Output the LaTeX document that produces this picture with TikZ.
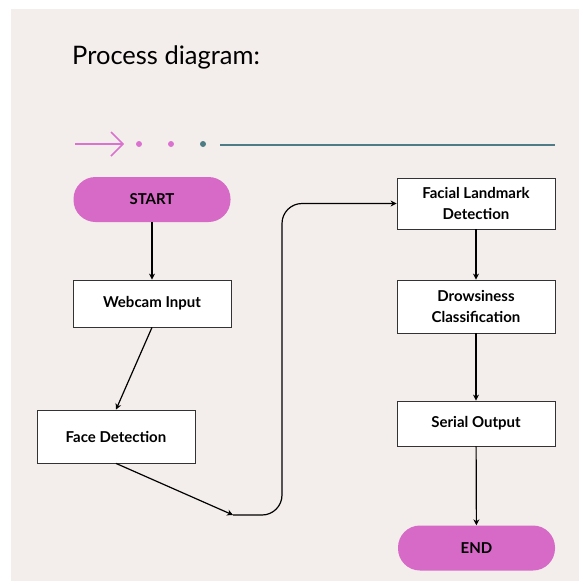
\documentclass[tikz,border=0pt]{standalone}
\usepackage{fontspec}
\setmainfont{Lato}
\usetikzlibrary{arrows.meta}

\definecolor{bgbeige}{HTML}{F3EEEB}
\definecolor{pinkfill}{HTML}{D66AC6}
\definecolor{pinkline}{HTML}{DC72CF}
\definecolor{tealline}{HTML}{4D7C87}

\begin{document}
\begin{tikzpicture}[x=1pt, y=-1pt,
  box/.style={draw=black!80, fill=white, line width=0.8pt, minimum width=158pt,
    align=center, font=\bfseries\fontsize{15}{21}\selectfont},
  pill/.style={fill=pinkfill, rounded corners=22pt, minimum width=157pt,
    minimum height=45pt, font=\bfseries\fontsize{15}{17}\selectfont},
  flow/.style={-{Stealth[length=6pt, width=6pt]}, line width=1.2pt}]

 \useasboundingbox (0,0) rectangle (579,581);
 \fill[bgbeige] (11,9) rectangle (579,581);

 % title
 \node[anchor=base west, inner sep=0pt, font=\fontsize{25.5}{30}\selectfont] (title) at (72,64) {Process diagram:};

 % arrow, dots and rule
 \draw[pinkline, line width=1.6pt] (75,144) -- (122,144);
 \draw[pinkline, line width=1.6pt] (111,132) -- (123,144) -- (111,156);
 \foreach \x/\c in {139/pinkline, 171/pinkline, 203/tealline} {
   \fill[\c] (\x,144) circle (3pt);
 }
 \draw[tealline, line width=2pt] (220,145) -- (555,145);

 % left column
 \node[pill] (start) at (152,199.5) {START};
 \node[box, minimum height=47pt] (webcam) at (152,303.5) {Webcam Input};
 \node[box, minimum height=53pt] (face) at (116,436.5) {Face Detection};

 % right column
 \node[box, minimum height=51pt] (landmark) at (476,203.5) {Facial Landmark\\Detection};
 \node[box, minimum height=53pt] (drowsy) at (476,306.5) {Drowsiness\\Classification};
 \node[box, minimum height=45pt] (serial) at (476,423.5) {Serial Output};
 \node[pill] (stop) at (476.5,548) {END};

 % connectors
 \coordinate (bend) at (233,515);
 \draw[flow] (start) -- (webcam);
 \draw[flow] (webcam.south) -- (face.north);
 \draw[flow] (face.south) -- (bend);
 \draw[flow, rounded corners=20pt] (bend) -- ++(49,0) |- (landmark.west);
 \foreach \a/\b in {landmark/drowsy, drowsy/serial, serial/stop} {
   \draw[flow] (\a) -- (\b);
 }

\end{tikzpicture}
\end{document}
